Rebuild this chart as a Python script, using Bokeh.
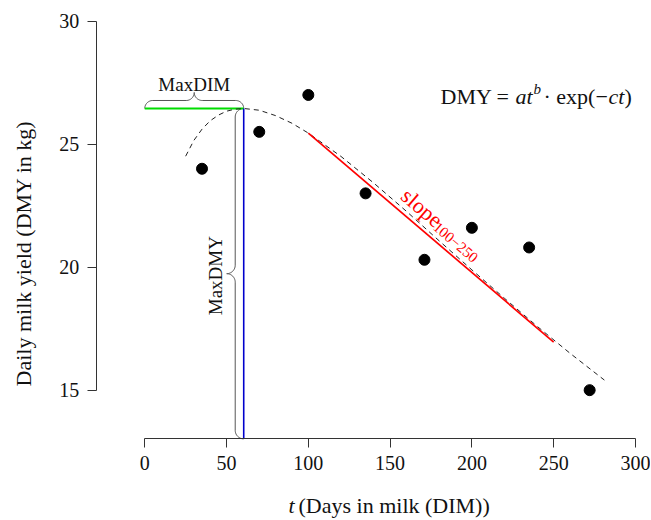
import math
from bokeh.plotting import figure
from bokeh.models import Range1d, FixedTicker, Label
from bokeh.embed import file_html
from bokeh.resources import INLINE

# ---------------- data ----------------
dim = [35, 70, 100, 135, 171, 200, 235, 272]
dmy = [24.0, 25.5, 27.0, 23.0, 20.3, 21.6, 20.8, 15.0]

curve_t = [25, 30, 35, 40, 45, 50, 55, 60.5, 70, 80, 90, 100, 120, 140,
           160, 180, 200, 220, 240, 260, 281]
curve_dmy = [24.51, 25.15, 25.61, 25.95, 26.18, 26.34, 26.42, 26.45, 26.38,
             26.16, 25.85, 25.45, 24.50, 23.42, 22.27, 21.07, 19.89, 18.73,
             17.59, 16.50, 15.41]

max_dim = 60.5
max_dmy = 26.45

slope_t = [100, 250]
slope_dmy = [25.45, 16.95]

x_ticks = [0, 50, 100, 150, 200, 250, 300]
y_ticks = [15, 20, 25, 30]

# ---------------- layout ----------------
W, H = 650, 518
X0, X1 = -88.2, 309.2
Y1 = 30.84
SY = 24.6
Y0 = Y1 - H / SY
AXIS_X = -29.7     # where the y axis is drawn
AXIS_Y = 13.02     # where the x axis is drawn
sx = W / (X1 - X0)
sy = H / (Y1 - Y0)


def px2x(px):
    return X0 + px / sx


def py2y(py):
    return Y1 - py / sy


FONT = "Liberation Serif"

p = figure(width=W, height=H,
           x_range=Range1d(X0, X1), y_range=Range1d(Y0, Y1),
           output_backend="svg", toolbar_location=None,
           min_border_left=0, min_border_right=0,
           min_border_top=0, min_border_bottom=0)
p.outline_line_color = None
p.grid.visible = False
p.background_fill_color = "white"
p.border_fill_color = "white"

for ax, ticks, loc in ((p.xaxis, x_ticks, AXIS_Y), (p.yaxis, y_ticks, AXIS_X)):
    ax.fixed_location = loc
    ax.ticker = FixedTicker(ticks=ticks)
    ax.bounds = (ticks[0], ticks[-1])
    ax.axis_line_color = "#333333"
    ax.axis_line_width = 1
    ax.major_tick_line_color = "#333333"
    ax.major_tick_out = 9
    ax.major_tick_in = 0
    ax.minor_tick_line_color = None
    ax.major_label_standoff = 8
    ax.major_label_text_font = FONT
    ax.major_label_text_font_size = "20px"
    ax.major_label_text_color = "#111111"


# ---------------- braces ----------------
def brace(L, r, n=14):
    pts = []
    for i in range(n + 1):
        th = math.pi - (math.pi / 2) * i / n
        pts.append((r + r * math.cos(th), r * math.sin(th)))
    for i in range(n + 1):
        th = -math.pi / 2 + (math.pi / 2) * i / n
        pts.append((L / 2 - r + r * math.cos(th), 2 * r + r * math.sin(th)))
    for i in range(n + 1):
        th = math.pi + (math.pi / 2) * i / n
        pts.append((L / 2 + r + r * math.cos(th), 2 * r + r * math.sin(th)))
    for i in range(n + 1):
        th = math.pi / 2 - (math.pi / 2) * i / n
        pts.append((L - r + r * math.cos(th), r * math.sin(th)))
    return pts


hb = brace(max_dim * sx, 8)
p.line([u / sx for u, v in hb], [max_dmy + v / sy for u, v in hb],
       line_color="#555555", line_width=1)
vb = brace((max_dmy - AXIS_Y) * sy, 8.5)
p.line([max_dim - v / sx for u, v in vb], [AXIS_Y + u / sy for u, v in vb],
       line_color="#555555", line_width=1)

# ---------------- marks ----------------
p.line([0, max_dim], [max_dmy, max_dmy], line_color="#00dd00", line_width=2.2)
p.line([max_dim, max_dim], [AXIS_Y, max_dmy], line_color="#0000cc",
       line_width=1.6)
p.line(curve_t, curve_dmy, line_color="#222222", line_width=1, line_dash="5 4")
p.line(slope_t, slope_dmy, line_color="#ff0000", line_width=1.7)
p.scatter(dim, dmy, size=11, color="black")


def lab(text, x, y, **kw):
    d = dict(text_font=FONT, text_font_size="22px", text_color="#111111",
             text_baseline="middle")
    d.update(kw)
    p.add_layout(Label(x=x, y=y, text=text, **d))


# axis titles
lab("Daily milk yield (DMY in kg)", px2x(23), py2y(253), angle=math.pi / 2,
    text_align="center")
tx, ty = px2x(296), py2y(505)
lab("t", tx, ty, text_align="right", text_font_style="italic", x_offset=-2)
lab("(Days in milk (DIM))", tx, ty, text_align="left", x_offset=2)

# MaxDIM / MaxDMY
lab("MaxDIM", max_dim / 2, max_dmy, text_align="center",
    y_offset=24, text_font_size="19px")
lab("MaxDMY", max_dim, (AXIS_Y + max_dmy) / 2, angle=math.pi / 2,
    text_align="center", x_offset=-28, y_offset=-2, text_font_size="19px")

# formula
fx, fy = px2x(440), py2y(96)
for txt, off, style, size, yo in [("DMY = ", 0, "normal", "22px", 0),
                                  ("at", 75, "italic", "22px", 0),
                                  ("b", 93, "italic", "15px", 8),
                                  ("\u00b7 exp(\u2212", 103, "normal", "22px", 0),
                                  ("ct", 168, "italic", "22px", 0),
                                  (")", 184, "normal", "22px", 0)]:
    lab(txt, fx, fy, text_align="left", text_font_style=style,
        text_font_size=size, x_offset=off, y_offset=yo)

# slope label along the red line
dx = (slope_t[1] - slope_t[0]) * sx
dy = (slope_dmy[1] - slope_dmy[0]) * sy
nrm = math.hypot(dx, dy)
ux, uy = dx / nrm, dy / nrm
ang = math.atan2(uy, ux)
for txt, a, pp, size in [("slope", 135, 17, "22px"),
                         ("100\u2212250", 183, 12.5, "15px")]:
    lab(txt, slope_t[0], slope_dmy[0], angle=ang, text_align="center",
        text_color="#ff0000", text_font_size=size,
        x_offset=a * ux - pp * uy, y_offset=a * uy + pp * ux)

open("out.html", "w").write(file_html(p, INLINE))
